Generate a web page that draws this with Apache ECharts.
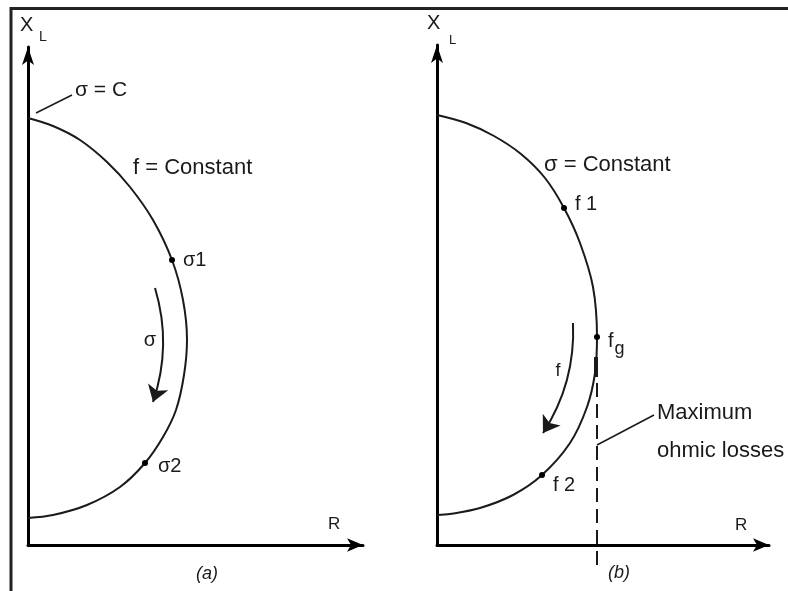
<!DOCTYPE html>
<html>
<head>
<meta charset="utf-8">
<script src="https://cdn.jsdelivr.net/npm/echarts@6/dist/echarts.min.js"></script>
<style>
html, body { margin: 0; padding: 0; background: #fff; }
#main { width: 788px; height: 591px; }
</style>
</head>
<body>
<div id="main"></div>
<script>
// panel (a): f = constant, slip moves along the circle
var curveA = [[0, 42.7], [2.5, 41.9], [5.2, 40.5], [7.9, 38.3], [10.2, 35.8], [12.5, 32.5],
    [14.4, 28.5], [15.5, 24.5], [15.9, 20.5], [15.6, 17.0], [14.8, 13.5], [13.5, 10.8],
    [11.7, 8.2], [9.2, 5.8], [5.9, 4.0], [2.5, 3.0], [0, 2.7]];
var pointsA = [[14.4, 28.5], [11.7, 8.2]];
var namesA = ['σ1', 'σ2'];
var arrowA = [[12.7, 25.7], [12.5, 14.3]];
var leaderA = [[0.8, 43.2], [4.4, 45.0]];
var rangeA = [33.5, 49.8];

// panel (b): σ = constant, frequency moves along the circle
var curveB = [[0, 43.0], [2.9, 42.2], [5.7, 40.9], [8.4, 39.1], [10.8, 36.7], [12.7, 33.7],
    [14.3, 30.2], [15.6, 25.8], [16.0, 20.8], [15.8, 17.2], [15.0, 13.8], [13.3, 10.2],
    [10.5, 7.0], [7.6, 5.0], [4.3, 3.7], [1.3, 3.1], [0, 3.0]];
var pointsB = [[12.7, 33.7], [16.0, 20.8], [10.5, 7.0]];
var namesB = ['f1', 'fg', 'f2'];
var arrowB = [[13.6, 22.2], [10.6, 11.2]];
var thickB = [[15.9, 18.8], [15.9, 16.8]];
var dashB = [[16.0, 16.2], [16.0, -2.2]];
var leaderB = [[16.0, 10.0], [21.7, 13.0]];
var rangeB = [33.2, 50.0];

var FONT = '"Liberation Sans", Arial, sans-serif';
var INK = '#1a1a1a';

var axisLine = function(size) {
    return {
        show: true,
        onZero: false,
        symbol: ['none', 'arrow'],
        symbolSize: size,
        lineStyle: { color: '#000', width: 3 }
    };
};

var makeAxis = function(grid, max, size) {
    return {
        type: 'value',
        gridIndex: grid,
        min: 0,
        max: max,
        axisLine: axisLine(size),
        axisTick: { show: false },
        axisLabel: { show: false },
        splitLine: { show: false }
    };
};

var pointLabels = {
    'σ1': { offset: [2, 0] },
    'σ2': { offset: [4, 3] },
    'f1': { offset: [2, -4] },
    'fg': { offset: [2, 4] },
    'f2': { offset: [2, 10] }
};

var pointData = function(pts, names) {
    let out = [];
    for (let i = 0; i < pts.length; ++i) {
        let n = names[i];
        let txt = n == 'fg' ? '{m|f}{s|g}' : n.charAt(0) + ' ' + n.substring(1);
        if (n.charAt(0) == 'σ') txt = n;
        out.push({
            value: pts[i],
            label: { formatter: txt, offset: pointLabels[n].offset }
        });
    }
    return out;
};

var curveSeries = function(idx, data) {
    return {
        type: 'line', xAxisIndex: idx, yAxisIndex: idx, data: data,
        smooth: 0.33, showSymbol: false, silent: true,
        lineStyle: { color: INK, width: 2 }
    };
};

var dotSeries = function(idx, pts, names) {
    return {
        type: 'scatter', xAxisIndex: idx, yAxisIndex: idx,
        data: pointData(pts, names),
        symbolSize: 6, itemStyle: { color: '#000', opacity: 1 }, z: 5,
        label: {
            show: true, position: 'right', distance: 6,
            fontFamily: FONT, fontSize: 20, color: INK, opacity: 1,
            rich: {
                m: { fontFamily: FONT, fontSize: 20, color: INK, lineHeight: 22 },
                s: { fontFamily: FONT, fontSize: 18, color: INK, lineHeight: 22, padding: [16, 0, 0, 1] }
            }
        }
    };
};

var lineSeries = function(idx, coords, opts) {
    return {
        type: 'lines', coordinateSystem: 'cartesian2d', xAxisIndex: idx, yAxisIndex: idx,
        clip: false, silent: true,
        symbol: opts.arrow ? ['none', 'arrow'] : 'none',
        symbolSize: [9, 16],
        lineStyle: { color: INK, width: opts.width, type: opts.type || 'solid', curveness: opts.curve || 0, opacity: 1 },
        data: [{ coords: coords }]
    };
};

var text = function(str, x, y, size, extra) {
    let s = {
        text: str, x: x, y: y, fill: INK,
        font: (extra && extra.italic ? 'italic ' : '') + size + 'px ' + FONT,
        textVerticalAlign: 'middle',
        textAlign: (extra && extra.align) || 'left'
    };
    if (extra && extra.bg) s.backgroundColor = '#fff';
    return { type: 'text', z: 100, style: s };
};

var chart = echarts.init(document.getElementById('main'), null, { renderer: 'canvas' });

var option = {
    backgroundColor: '#fff',
    animation: false,
    grid: [
        { left: 28, top: 47, width: 335, height: 498 },
        { left: 437, top: 45, width: 332, height: 500 }
    ],
    xAxis: [makeAxis(0, rangeA[0], [10, 16]), makeAxis(1, rangeB[0], [10, 16])],
    yAxis: [makeAxis(0, rangeA[1], [9, 18]), makeAxis(1, rangeB[1], [9, 18])],
    series: [
        curveSeries(0, curveA),
        dotSeries(0, pointsA, namesA),
        lineSeries(0, arrowA, { arrow: true, width: 2, curve: 0.16 }),
        lineSeries(0, leaderA, { width: 1.5 }),
        curveSeries(1, curveB),
        dotSeries(1, pointsB, namesB),
        lineSeries(1, arrowB, { arrow: true, width: 2, curve: 0.16 }),
        lineSeries(1, thickB, { width: 4 }),
        lineSeries(1, dashB, { width: 2, type: [14, 7] }),
        lineSeries(1, leaderB, { width: 1.5 })
    ],
    graphic: [
        { type: 'rect', z: 100, shape: { x: 11, y: 8.5, width: 800, height: 620 },
          style: { fill: 'none', stroke: '#222', lineWidth: 3 } },
        // panel (a)
        text('X', 20, 25, 20),
        text('L', 39, 37, 14),
        text('σ = C', 75, 90, 21),
        text('f = Constant', 133, 168, 22),
        text('σ', 150, 340, 20, { align: 'center', bg: true }),
        text('R', 328, 524, 17),
        text('(a)', 207, 574, 18, { italic: true, align: 'center' }),
        // panel (b)
        text('X', 427, 23, 20),
        text('L', 449, 40, 13),
        text('σ = Constant', 544, 165, 22),
        text('f', 558, 371, 18, { align: 'center', bg: true }),
        text('Maximum', 657, 413, 22),
        text('ohmic losses', 657, 451, 22),
        text('R', 735, 525, 17),
        text('(b)', 619, 573, 18, { italic: true, align: 'center' })
    ]
};

chart.setOption(option);
</script>
</body>
</html>
